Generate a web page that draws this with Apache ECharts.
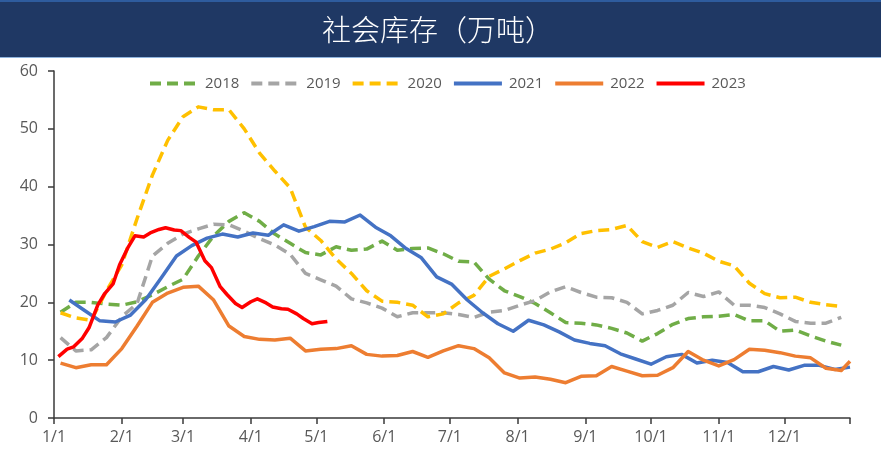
<!DOCTYPE html>
<html>
<head>
<meta charset="utf-8">
<script src="https://cdn.jsdelivr.net/npm/echarts@6/dist/echarts.min.js"></script>
<style>html,body{margin:0;padding:0;background:#fff;}#c{width:881px;height:459px;}</style>
</head>
<body>
<div id="c"></div>
<script>
// ---- data ----
const titleText = '社会库存（万吨）';
const years = ['2018', '2019', '2020', '2021', '2022', '2023'];
const monthLabels = ['1/1','2/1','3/1','4/1','5/1','6/1','7/1','8/1','9/1','10/1','11/1','12/1'];

// day-of-year index (0 = 1/1) of each observation
const weekDays = [3,10,17,24,31,38,45,52,59,66,73,80,87,94,101,108,115,122,129,136,143,150,157,164,171,178,185,192,199,206,213,220,227,234,241,248,255,262,269,276,283,290,297,304,311,318,325,332,339,346,353,360];
const weekDays2021 = [7,14,21,28,35,42,49,56,63,70,77,84,91,98,105,112,119,126,133,140,147,154,161,168,175,182,189,196,203,210,217,224,231,238,245,252,259,266,273,280,287,294,301,308,315,322,329,336,343,350,357,364];
const weekDays2022 = [3,10,17,24,31,38,45,52,59,66,73,80,87,94,101,108,115,122,129,136,143,150,157,164,171,178,185,192,199,206,213,220,227,234,241,248,255,262,269,276,283,290,297,304,311,318,325,332,339,346,353,360,364];
const days2023 = [2,6,9,13,16,20,23,27,30,34,37,41,44,48,51,55,58,62,65,69,72,76,79,83,86,90,93,97,100,104,107,111,114,118,121,125];

const v2018 = [18.3,20.0,20.0,19.7,19.5,20.1,21.3,22.7,24.0,28.0,31.5,34.0,35.5,34.0,31.8,30.2,28.6,28.2,29.6,29.0,29.2,30.6,29.0,29.3,29.4,28.4,27.1,27.0,24.0,22.0,21.0,19.8,18.2,16.5,16.4,16.1,15.5,14.7,13.3,14.6,16.2,17.2,17.5,17.6,17.9,16.8,16.8,15.0,15.2,14.2,13.3,12.6];
const v2019 = [13.9,11.6,11.8,13.9,17.5,19.8,28.0,30.2,31.8,32.7,33.5,33.4,32.3,31.0,29.9,28.3,25.0,23.9,22.8,20.6,19.9,19.0,17.5,18.2,18.2,18.2,17.9,17.4,18.3,18.6,19.5,20.3,21.8,22.7,21.7,20.9,20.8,20.0,18.0,18.6,19.5,21.7,21.0,21.8,19.5,19.5,19.1,18.0,16.7,16.4,16.4,17.4];
const v2020 = [18.2,17.3,16.9,22.0,26.5,34.5,42.0,48.0,52.1,53.8,53.3,53.3,50.0,45.8,42.7,39.8,33.0,30.7,27.5,25.0,22.0,20.2,20.0,19.5,17.5,18.0,19.9,21.2,24.5,25.8,27.2,28.5,29.2,30.3,31.9,32.4,32.6,33.3,30.5,29.5,30.5,29.4,28.5,27.1,26.3,23.3,21.5,20.8,20.9,20.0,19.6,19.3];
const v2021 = [20.4,18.6,16.8,16.6,17.8,20.5,24.2,28.0,29.8,31.1,31.8,31.3,32.0,31.6,33.4,32.3,33.1,34.0,33.9,35.1,33.0,31.5,29.3,27.7,24.4,23.1,20.4,18.2,16.3,15.0,16.9,16.1,14.9,13.5,12.9,12.5,11.1,10.2,9.3,10.6,11.0,9.5,10.0,9.6,8.0,8.0,8.9,8.3,9.1,9.1,8.4,8.8];
const v2022 = [9.5,8.7,9.2,9.2,12.0,15.9,20.0,21.6,22.6,22.8,20.4,15.9,14.1,13.6,13.5,13.8,11.6,11.9,12.0,12.5,11.0,10.7,10.8,11.5,10.5,11.6,12.5,12.0,10.4,7.8,6.9,7.1,6.7,6.1,7.2,7.3,8.9,8.1,7.3,7.4,8.7,11.5,10.0,9.0,10.1,11.9,11.7,11.3,10.7,10.4,8.6,8.2,9.8];
const v2023 = [10.6,11.9,12.3,13.8,15.6,19.5,21.4,23.2,26.5,29.6,31.5,31.3,32.0,32.6,32.9,32.5,32.4,31.2,30.4,27.2,26.0,22.7,21.4,19.8,19.1,20.1,20.6,19.9,19.2,18.9,18.8,18.0,17.2,16.3,16.5,16.7];

// ---- build ----
const monthStartIdx = [];
const dayNames = [];
(function () {
  const d = new Date(2023, 0, 1);
  for (let i = 0; i < 365; i++) {
    const m = d.getMonth() + 1, dd = d.getDate();
    dayNames.push(m + '/' + dd);
    if (dd === 1) monthStartIdx.push(i);
    d.setDate(d.getDate() + 1);
  }
})();
const isLabel = (idx) => monthStartIdx.indexOf(idx) >= 0 && monthLabels.indexOf(dayNames[idx]) >= 0;
const isTick = (idx) => isLabel(idx) || idx === 364;

const pair = (ds, vs) => ds.map((d, i) => [d, vs[i]]);
const dash = [11, 6];
const seriesDefs = [
  { name: years[0], data: pair(weekDays, v2018), color: '#70AD47', type: dash },
  { name: years[1], data: pair(weekDays, v2019), color: '#A5A5A5', type: dash },
  { name: years[2], data: pair(weekDays, v2020), color: '#FFC000', type: dash },
  { name: years[3], data: pair(weekDays2021, v2021), color: '#4472C4', type: 'solid' },
  { name: years[4], data: pair(weekDays2022, v2022), color: '#ED7D31', type: 'solid' },
  { name: years[5], data: pair(days2023, v2023), color: '#FF0000', type: 'solid' }
];

const chart = echarts.init(document.getElementById('c'), null, { renderer: 'canvas' });
chart.setOption({
  animation: false,
  backgroundColor: '#ffffff',
  graphic: [
    { type: 'rect', z: 0, shape: { x: 0, y: 0, width: 881, height: 58 }, style: { fill: '#1F3864' } },
    { type: 'rect', z: 1, shape: { x: 0, y: 0, width: 881, height: 2 }, style: { fill: '#2E5C9E' } },
    { type: 'rect', z: 1, shape: { x: 0, y: 57, width: 881, height: 1 }, style: { fill: '#8FB4DE' } },
    { type: 'text', z: 2, x: 438, y: 30,
      style: { text: titleText, fill: '#ffffff', font: '300 29px "Noto Sans CJK SC"', textAlign: 'center', textVerticalAlign: 'middle' } }
  ],
  legend: {
    left: 143, top: 71,
    itemWidth: 48, itemHeight: 14, itemGap: 10,
    itemStyle: { opacity: 0 },
    lineStyle: { width: 4 },
    textStyle: { color: '#595959', fontSize: 15, fontFamily: 'Open Sans', padding: [0, 0, 0, 2] },
    data: years
  },
  grid: { left: 54, right: 31, top: 71, bottom: 41, containLabel: false, outerBoundsMode: 'none' },
  xAxis: {
    type: 'category',
    data: dayNames,
    boundaryGap: false,
    axisLine: { lineStyle: { color: '#3A3A3A', width: 1.5 } },
    axisTick: { show: true, length: 6, interval: (i) => isTick(i), lineStyle: { color: '#3A3A3A', width: 1.5 } },
    axisLabel: { interval: (i) => isLabel(i), color: '#595959', fontSize: 16, fontFamily: 'Open Sans', margin: 11 },
    splitLine: { show: false }
  },
  yAxis: {
    type: 'value', min: 0, max: 60, interval: 10,
    axisLine: { show: true, lineStyle: { color: '#3A3A3A', width: 1.5 } },
    axisTick: { show: true, length: 6, lineStyle: { color: '#3A3A3A', width: 1.5 } },
    axisLabel: { color: '#595959', fontSize: 16, fontFamily: 'Open Sans', margin: 16 },
    splitLine: { show: false }
  },
  series: seriesDefs.map((s, k) => ({
    name: s.name, type: 'line', data: s.data, symbol: 'none', smooth: false,
    z: 2 + k,
    itemStyle: { color: s.color },
    lineStyle: { color: s.color, width: 3.5, type: s.type, cap: 'butt', join: 'round' }
  }))
});
</script>
</body>
</html>
